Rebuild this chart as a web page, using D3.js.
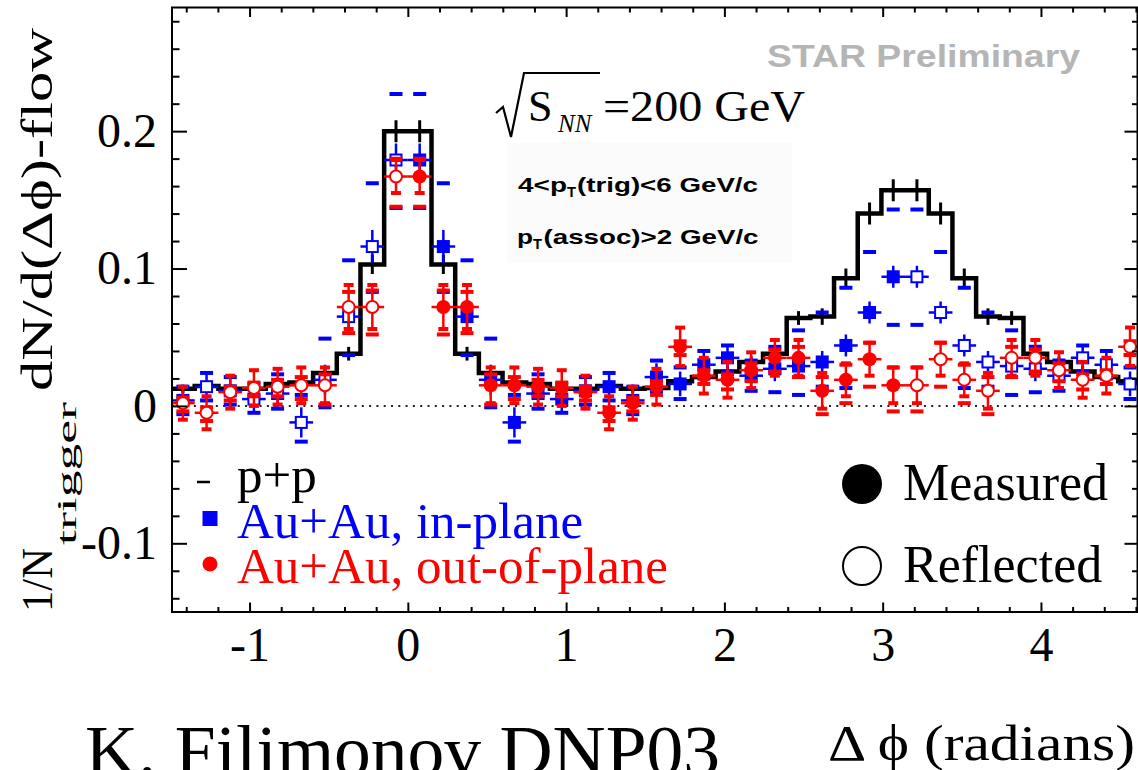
<!DOCTYPE html>
<html>
<head>
<meta charset="utf-8">
<script src="https://cdn.jsdelivr.net/npm/d3@7"></script>
<style>
  html, body { margin: 0; padding: 0; background: #fff; }
  svg { display: block; }
</style>
</head>
<body>
<svg id="chart" width="1138" height="770"></svg>
<script>
// ---- data: 21 measured bins on [0, pi]; the other side is the reflection ----
const nBins = 21;

// p+p reference (black histogram)
const ppValues = [0.200, 0.103, 0.038, 0.024, 0.017, 0.016, 0.0125, 0.0125, 0.0145, 0.0125, 0.013,
                  0.018, 0.021, 0.025, 0.032, 0.038, 0.064, 0.065, 0.093, 0.140, 0.157];
const ppErrors = [0.008, 0.007, 0.005, 0.004, 0.004, 0.003, 0.003, 0.003, 0.003, 0.003, 0.003,
                  0.003, 0.004, 0.004, 0.004, 0.004, 0.005, 0.006, 0.007, 0.008, 0.008];

// Au+Au, in-plane (blue)
const inPlane      = [0.179, 0.116, 0.065, 0.019, -0.012, 0.009, 0.005, 0.011, 0.014, 0.004, 0.021,
                      0.016, 0.030, 0.035, 0.022, 0.027, 0.029, 0.032, 0.044, 0.068, 0.094];
const inPlaneStat  = [0.012, 0.012, 0.012, 0.011, 0.011, 0.010, 0.010, 0.010, 0.010, 0.010, 0.010,
                      0.009, 0.009, 0.009, 0.009, 0.009, 0.009, 0.008, 0.008, 0.008, 0.008];
const inPlaneSysUp = [0.048, 0.046, 0.041, 0.030, 0.020, 0.014, 0.011, 0.010, 0.010, 0.010, 0.012,
                      0.012, 0.010, 0.009, 0.011, 0.016, 0.026, 0.036, 0.042, 0.044, 0.049];
const inPlaneSysDn = [0.035, 0.033, 0.028, 0.020, 0.014, 0.011, 0.010, 0.010, 0.010, 0.010, 0.011,
                      0.011, 0.010, 0.010, 0.011, 0.017, 0.021, 0.018, 0.031, 0.033, 0.035];

// Au+Au, out-of-plane (red)
const outPlane      = [0.167, 0.072, 0.072, 0.015, 0.015, 0.014, 0.013, 0.010, -0.005, 0.002, 0.014,
                       0.043, 0.022, 0.019, 0.026, 0.035, 0.035, 0.011, 0.019, 0.034, 0.015];
const outPlaneStat  = [0.012, 0.016, 0.016, 0.013, 0.013, 0.013, 0.013, 0.012, 0.012, 0.012, 0.013,
                       0.014, 0.013, 0.013, 0.013, 0.013, 0.013, 0.013, 0.012, 0.012, 0.013];
const outPlaneSysUp = [0.013, 0.012, 0.011, 0.008, 0.006, 0.005, 0.004, 0.004, 0.004, 0.004, 0.004,
                       0.004, 0.004, 0.004, 0.005, 0.006, 0.008, 0.010, 0.011, 0.012, 0.013];
const outPlaneSysDn = [0.022, 0.020, 0.019, 0.014, 0.010, 0.007, 0.006, 0.006, 0.006, 0.006, 0.006,
                       0.006, 0.006, 0.007, 0.008, 0.010, 0.014, 0.017, 0.017, 0.020, 0.019];

const xDomain = [-1.49, 4.61];
const yDomain = [-0.15, 0.29];
const xTickValues = [-1, 0, 1, 2, 3, 4];
const yTickValues = [-0.1, 0, 0.1, 0.2];
const xTickLabels = ["-1", "0", "1", "2", "3", "4"];
const yTickLabels = ["-0.1", "0", "0.1", "0.2"];

const legendEntries = ["p+p", "Au+Au, in-plane", "Au+Au, out-of-plane"];
const markerEntries = ["Measured", "Reflected"];

// ---- layout ----
const W = 1138, H = 770;
const plot = { left: 172, right: 1137.5, top: 7.5, bottom: 612 };
const serif = "'Liberation Serif','Times New Roman',Times,serif";
const sans = "'Liberation Sans',Arial,Helvetica,sans-serif";
const BLUE = "#0000ff", RED = "#ff0000";
const PHI = "\u03d5", DELTA = "\u0394";

const x = d3.scaleLinear().domain(xDomain).range([plot.left, plot.right]);
const y = d3.scaleLinear().domain(yDomain).range([plot.bottom, plot.top]);

const binWidth = Math.PI / nBins;
const centers = d3.range(nBins).map(k => (k + 0.5) * binWidth);

const svg = d3.select("#chart");
svg.append("rect").attr("width", W).attr("height", H).attr("fill", "#fff");

svg.append("defs").append("clipPath").attr("id", "plotClip")
  .append("rect")
  .attr("x", plot.left).attr("y", plot.top)
  .attr("width", plot.right - plot.left).attr("height", plot.bottom - plot.top);

// faint panel behind the kinematic cuts
svg.append("rect").attr("x", 507).attr("y", 143).attr("width", 285).attr("height", 120)
  .attr("fill", "#fbfbfb");

const g = svg.append("g").attr("clip-path", "url(#plotClip)");

// zero reference line
g.append("line")
  .attr("x1", plot.left).attr("x2", plot.right)
  .attr("y1", y(0)).attr("y2", y(0))
  .attr("stroke", "#222").attr("stroke-width", 2)
  .attr("stroke-dasharray", "2,5.3");

// ---- p+p histogram: reflected near side, measured, reflected away side ----
const ppBins = [];
for (let k = 9; k >= 0; k--) ppBins.push({ x: -centers[k], v: ppValues[k], e: ppErrors[k] });
for (let k = 0; k < nBins; k++) ppBins.push({ x: centers[k], v: ppValues[k], e: ppErrors[k] });
for (let k = nBins - 1; k >= 11; k--) ppBins.push({ x: 2 * Math.PI - centers[k], v: ppValues[k], e: ppErrors[k] });

const stepPts = [{ x: ppBins[0].x - binWidth / 2, v: ppBins[0].v }]
  .concat(ppBins)
  .concat([{ x: ppBins[ppBins.length - 1].x + binWidth / 2, v: ppBins[ppBins.length - 1].v }]);

g.append("path")
  .datum(stepPts)
  .attr("d", d3.line().x(d => x(d.x)).y(d => y(d.v)).curve(d3.curveStep))
  .attr("fill", "none").attr("stroke", "#000").attr("stroke-width", 4.5)
  .attr("stroke-linejoin", "miter");

g.append("g").selectAll("line").data(ppBins).join("line")
  .attr("x1", d => x(d.x)).attr("x2", d => x(d.x))
  .attr("y1", d => y(d.v - d.e)).attr("y2", d => y(d.v + d.e))
  .attr("stroke", "#000").attr("stroke-width", 3);

// ---- Au+Au points ----
function buildPoints(vals, stat, up, dn) {
  const pts = [];
  for (let k = 0; k < nBins; k++)
    pts.push({ x: centers[k], v: vals[k], s: stat[k], up: up[k], dn: dn[k], refl: false });
  for (let k = 0; k <= 9; k++)
    pts.push({ x: -centers[k], v: vals[k], s: stat[k], up: up[k], dn: dn[k], refl: true });
  for (let k = 11; k < nBins; k++)
    pts.push({ x: 2 * Math.PI - centers[k], v: vals[k], s: stat[k], up: up[k], dn: dn[k], refl: true });
  return pts;
}

function drawSeries(pts, color, shape, caps) {
  const s = g.append("g");
  const halfBin = (x(binWidth) - x(0)) / 2;
  // horizontal bin-width bar
  s.selectAll("line.xe").data(pts).join("line").attr("class", "xe")
    .attr("x1", d => x(d.x) - halfBin).attr("x2", d => x(d.x) + halfBin)
    .attr("y1", d => y(d.v)).attr("y2", d => y(d.v))
    .attr("stroke", color).attr("stroke-width", 2.5);
  // statistical error
  s.selectAll("line.ye").data(pts).join("line").attr("class", "ye")
    .attr("x1", d => x(d.x)).attr("x2", d => x(d.x))
    .attr("y1", d => y(d.v - d.s)).attr("y2", d => y(d.v + d.s))
    .attr("stroke", color).attr("stroke-width", 2.5);
  if (caps) {
    const capEnds = pts.flatMap(d => [{ x: d.x, v: d.v + d.s }, { x: d.x, v: d.v - d.s }]);
    s.selectAll("line.cap").data(capEnds).join("line").attr("class", "cap")
      .attr("x1", d => x(d.x) - 5).attr("x2", d => x(d.x) + 5)
      .attr("y1", d => y(d.v)).attr("y2", d => y(d.v))
      .attr("stroke", color).attr("stroke-width", 4);
  }
  // systematic limits from the flow subtraction
  const sysEnds = pts.flatMap(d => [{ x: d.x, v: d.v + d.up }, { x: d.x, v: d.v - d.dn }]);
  s.selectAll("line.sys").data(sysEnds).join("line").attr("class", "sys")
    .attr("x1", d => x(d.x) - 6.5).attr("x2", d => x(d.x) + 6.5)
    .attr("y1", d => y(d.v)).attr("y2", d => y(d.v))
    .attr("stroke", color).attr("stroke-width", 4);
  // markers
  if (shape === "square") {
    s.selectAll("rect.m").data(pts).join("rect").attr("class", "m")
      .attr("x", d => x(d.x) - (d.refl ? 5.5 : 6.5))
      .attr("y", d => y(d.v) - (d.refl ? 5.5 : 6.5))
      .attr("width", d => d.refl ? 11 : 13).attr("height", d => d.refl ? 11 : 13)
      .attr("fill", d => d.refl ? "#fff" : color)
      .attr("stroke", color).attr("stroke-width", d => d.refl ? 2 : 0);
  } else {
    s.selectAll("circle.m").data(pts).join("circle").attr("class", "m")
      .attr("cx", d => x(d.x)).attr("cy", d => y(d.v))
      .attr("r", d => d.refl ? 6 : 7)
      .attr("fill", d => d.refl ? "#fff" : color)
      .attr("stroke", color).attr("stroke-width", d => d.refl ? 2 : 0);
  }
}

drawSeries(buildPoints(inPlane, inPlaneStat, inPlaneSysUp, inPlaneSysDn), BLUE, "square", false);
drawSeries(buildPoints(outPlane, outPlaneStat, outPlaneSysUp, outPlaneSysDn), RED, "circle", true);

// ---- axes ----
function styleAxis(sel) {
  sel.select(".domain").remove();
  sel.selectAll(".tick line").attr("stroke", "#000").attr("stroke-width", 2);
  sel.selectAll(".tick text").attr("font-family", serif).attr("font-size", 48).attr("fill", "#000");
}
const xMinor = d3.range(-14, 47, 2).map(v => v / 10).filter(v => !xTickValues.includes(v));
const yMinor = d3.range(-14, 29, 2).map(v => v / 100).filter(v => !yTickValues.some(t => Math.abs(t - v) < 1e-9));

const xLabel = d => xTickLabels[xTickValues.indexOf(d)];
const yLabel = d => yTickLabels[yTickValues.indexOf(d)];

svg.append("g").attr("transform", `translate(0,${plot.bottom})`)
  .call(d3.axisBottom(x).tickValues(xTickValues).tickFormat(xLabel).tickSize(-9.5).tickPadding(15))
  .call(styleAxis);
svg.append("g").attr("transform", `translate(0,${plot.bottom})`)
  .call(d3.axisBottom(x).tickValues(xMinor).tickFormat("").tickSize(-5))
  .call(styleAxis);
svg.append("g").attr("transform", `translate(0,${plot.top})`)
  .call(d3.axisTop(x).tickValues(xTickValues).tickFormat("").tickSize(-9.5))
  .call(styleAxis);
svg.append("g").attr("transform", `translate(0,${plot.top})`)
  .call(d3.axisTop(x).tickValues(xMinor).tickFormat("").tickSize(-5))
  .call(styleAxis);

svg.append("g").attr("transform", `translate(${plot.left},0)`)
  .call(d3.axisLeft(y).tickValues(yTickValues).tickFormat(yLabel).tickSize(-15).tickPadding(15))
  .call(styleAxis);
svg.append("g").attr("transform", `translate(${plot.left},0)`)
  .call(d3.axisLeft(y).tickValues(yMinor).tickFormat("").tickSize(-7.5))
  .call(styleAxis);
svg.append("g").attr("transform", `translate(${plot.right},0)`)
  .call(d3.axisRight(y).tickValues(yTickValues).tickFormat("").tickSize(-13))
  .call(styleAxis);
svg.append("g").attr("transform", `translate(${plot.right},0)`)
  .call(d3.axisRight(y).tickValues(yMinor).tickFormat("").tickSize(-5.5))
  .call(styleAxis);

svg.append("rect")
  .attr("x", plot.left).attr("y", plot.top)
  .attr("width", plot.right - plot.left).attr("height", plot.bottom - plot.top)
  .attr("fill", "none").attr("stroke", "#000").attr("stroke-width", 2);

// ---- y-axis title ----
const yt = svg.append("text")
  .attr("transform", `translate(52,612) rotate(-90)`)
  .attr("font-family", serif).attr("fill", "#000");
yt.append("tspan").attr("x", 0).attr("y", 0).attr("font-size", 45)
  .attr("textLength", 64).attr("lengthAdjust", "spacingAndGlyphs").text("1/N");
yt.append("tspan").attr("x", 67).attr("y", 24).attr("font-size", 27)
  .attr("textLength", 143).attr("lengthAdjust", "spacingAndGlyphs").text("trigger");
yt.append("tspan").attr("x", 221).attr("y", 0).attr("font-size", 45)
  .attr("textLength", 363).attr("lengthAdjust", "spacingAndGlyphs").text("dN/d(" + DELTA + PHI + ")-flow");

// ---- x-axis title and author line ----
svg.append("text").attr("x", 828).attr("y", 760)
  .attr("font-family", serif).attr("font-size", 50).attr("fill", "#000")
  .attr("textLength", 307).attr("lengthAdjust", "spacingAndGlyphs")
  .text(DELTA + " " + PHI + " (radians)");
svg.append("text").attr("x", 85).attr("y", 775)
  .attr("font-family", serif).attr("font-size", 71).attr("fill", "#000")
  .attr("textLength", 635).attr("lengthAdjust", "spacingAndGlyphs")
  .text("K. Filimonov DNP03");

// ---- annotations ----
svg.append("text").attr("x", 767).attr("y", 67)
  .attr("font-family", sans).attr("font-weight", "bold").attr("font-size", 31)
  .attr("fill", "#b5b5b5")
  .attr("textLength", 313).attr("lengthAdjust", "spacingAndGlyphs")
  .text("STAR Preliminary");

// sqrt(s_NN) = 200 GeV
svg.append("path")
  .attr("d", "M496,113 L503,107 L511,137 L524,73 L600,73")
  .attr("fill", "none").attr("stroke", "#000").attr("stroke-width", 2.2)
  .attr("stroke-linejoin", "miter");
svg.append("text").attr("x", 528).attr("y", 121)
  .attr("font-family", serif).attr("font-size", 44).attr("fill", "#000").text("S");
svg.append("text").attr("x", 558).attr("y", 132)
  .attr("font-family", serif).attr("font-style", "italic").attr("font-size", 25).attr("fill", "#000").text("NN");
svg.append("text").attr("x", 603).attr("y", 121)
  .attr("font-family", serif).attr("font-size", 44).attr("fill", "#000")
  .attr("textLength", 202).attr("lengthAdjust", "spacingAndGlyphs").text("=200 GeV");

function cutLabel(yBase, parts) {
  parts.forEach(p => {
    svg.append("text").attr("x", p.x).attr("y", yBase + (p.sub ? 5 : 0))
      .attr("font-family", sans).attr("font-weight", "bold")
      .attr("font-size", p.sub ? 14 : 21).attr("fill", "#000")
      .attr("textLength", p.len).attr("lengthAdjust", "spacingAndGlyphs")
      .text(p.t);
  });
}
cutLabel(192, [
  { x: 518, t: "4<p", len: 49 },
  { x: 567, t: "T", sub: true, len: 9 },
  { x: 577, t: "(trig)<6 GeV/c", len: 181 }
]);
cutLabel(243.5, [
  { x: 517, t: "p", len: 16 },
  { x: 533, t: "T", sub: true, len: 9 },
  { x: 543.5, t: "(assoc)>2 GeV/c", len: 215 }
]);

// ---- legend (series) ----
svg.append("line").attr("x1", 197).attr("x2", 210).attr("y1", 482).attr("y2", 482)
  .attr("stroke", "#000").attr("stroke-width", 2.5);
svg.append("rect").attr("x", 202.5).attr("y", 511).attr("width", 15).attr("height", 15).attr("fill", BLUE);
svg.append("circle").attr("cx", 210).attr("cy", 564).attr("r", 7.5).attr("fill", RED);
const legendColors = ["#000", BLUE, RED];
const legendY = [492, 538, 583];
legendEntries.forEach((t, i) => {
  svg.append("text").attr("x", 237).attr("y", legendY[i])
    .attr("font-family", serif).attr("font-size", 51).attr("fill", legendColors[i]).text(t);
});

// ---- legend (marker styles) ----
svg.append("circle").attr("cx", 862).attr("cy", 484).attr("r", 20).attr("fill", "#000");
svg.append("circle").attr("cx", 862).attr("cy", 566).attr("r", 19).attr("fill", "#fff")
  .attr("stroke", "#000").attr("stroke-width", 2);
markerEntries.forEach((t, i) => {
  svg.append("text").attr("x", 903).attr("y", [500, 582][i])
    .attr("font-family", serif).attr("font-size", 52).attr("fill", "#000").text(t);
});
</script>
</body>
</html>
